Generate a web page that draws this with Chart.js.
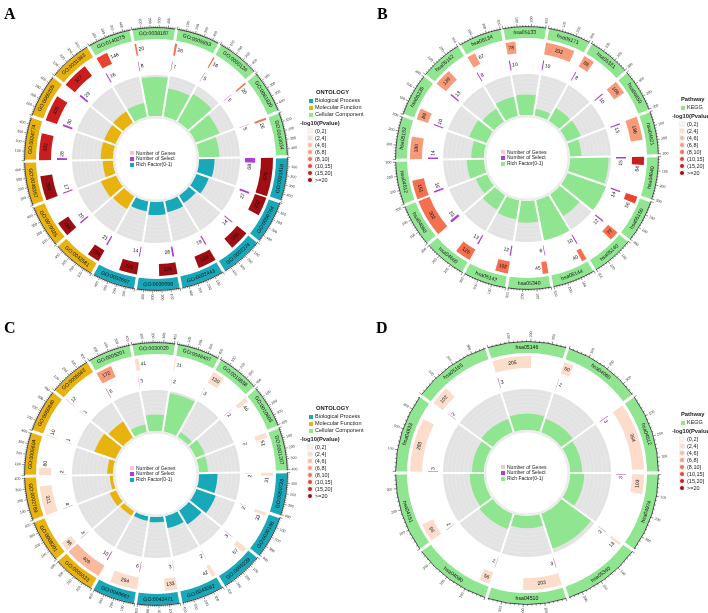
<!DOCTYPE html>
<html>
<head>
<meta charset="utf-8">
<script src="https://cdn.jsdelivr.net/npm/chart.js@4.4.1/dist/chart.umd.min.js"></script>
<style>
  body { margin: 0; background: #fff; width: 708px; height: 613px; position: relative; overflow: hidden;
         font-family: "Liberation Sans", Arial, sans-serif; }
  canvas { position: absolute; }
  .letter { position: absolute; font-family: "Liberation Serif", "DejaVu Serif", serif; font-weight: bold; font-size: 16px; line-height: 16px; }
  .lg { position: absolute; font-size: 5.5px; line-height: 7px; color: #222; white-space: nowrap; }
  .lg b { font-size: 5.8px; }
  .sw { position: absolute; width: 4px; height: 4px; }
  .dot { position: absolute; width: 4px; height: 4px; border-radius: 50%; }
</style>
</head>
<body>
<script>
// shared legend data
const ONTOLOGY_NAMES = ['Biological Process', 'Molecular Function', 'Cellular Component'];
const ONTOLOGY_COLORS = ['#19A8B9', '#E8B30E', '#90E690'];
const PVALUE_LABELS = ['(0,2]', '(2,4]', '(4,6]', '(6,8]', '(8,10]', '(10,15]', '(15,20]', '>=20'];
const PVALUE_COLORS = ['#FEF0EA', '#FCDCCB', '#FBB99E', '#F89B7B', '#F4704F', '#EB4331', '#CC1C1E', '#A00D12'];
const HOLE_LABELS = ['Number of Genes', 'Number of Select', 'Rich Factor(0-1)'];
const SELECT_COLOR = '#B13CD8';
const GENES_COLOR = '#F8C6D2';

// Panel A (GO), clockwise from top
const idsA = ['GO:0038187', 'GO:0005853', 'GO:0000126', 'GO:0061820', 'GO:0043034', 'GO:0031616',
  'GO:0050764', 'GO:0002274', 'GO:0002443', 'GO:0030098', 'GO:0002697', 'GO:0042581',
  'GO:0070325', 'GO:0048367', 'GO:0034774', 'GO:0060205', 'GO:0031983', 'GO:0140275'];
const ontoA = [2, 2, 2, 2, 2, 0, 0, 0, 0, 0, 0, 1, 1, 1, 1, 1, 1, 2];
const genesA = [20, 26, 16, 20, 26, 479, 232, 250, 229, 226, 225, 154, 184, 302, 332, 325, 327, 146];
const selectA = [8, 7, 5, 5, 5, 68, 27, 14, 19, 26, 14, 21, 20, 17, 28, 30, 29, 16];
const richA = [0.95, 0.7, 0.78, 0.62, 0.5, 0.38, 0.32, 0.22, 0.28, 0.32, 0.25, 0.36, 0.4, 0.25, 0.3, 0.3, 0.32, 0.35];
const pLevelA = [4, 4, 4, 4, 4, 7, 7, 7, 7, 7, 7, 7, 7, 7, 6, 6, 6, 5];

// Panel B (KEGG)
const idsB = ['hsa05133', 'hsa05171', 'hsa05321', 'hsa04659', 'hsa04621', 'hsa04640', 'hsa05150',
  'hsa05140', 'hsa05144', 'hsa05340', 'hsa05142', 'hsa04660', 'hsa04060', 'hsa04612',
  'hsa05152', 'hsa05235', 'hsa05162', 'hsa05134'];
const genesB = [78, 232, 88, 108, 186, 64, 56, 77, 40, 45, 102, 126, 302, 151, 180, 89, 139, 67];
const selectB = [10, 10, 8, 10, 13, 15, 14, 12, 10, 6, 12, 13, 23, 16, 14, 10, 13, 8];
const richB = [0.5, 0.17, 0.36, 0.37, 0.28, 0.94, 1.0, 0.62, 1.0, 0.53, 0.47, 0.41, 0.3, 0.42, 0.31, 0.45, 0.37, 0.48];
const pLevelB = [3, 3, 3, 3, 3, 6, 5, 4, 4, 4, 4, 4, 4, 4, 3, 3, 3, 3];

// Panel C (GO)
const idsC = ['GO:0030020', 'GO:0048407', 'GO:0019838', 'GO:0010603', 'GO:0001207', 'GO:0050728',
  'GO:0030198', 'GO:0045229', 'GO:0043062', 'GO:0042471', 'GO:0048662', 'GO:0005523',
  'GO:0008201', 'GO:0002789', 'GO:0005604', 'GO:0050840', 'GO:0005583', 'GO:0005201'];
const ontoC = [2, 2, 2, 2, 2, 0, 0, 0, 0, 0, 0, 1, 1, 1, 1, 1, 1, 2];
const genesC = [41, 11, 130, 46, 51, 31, 33, 57, 42, 133, 294, 409, 96, 311, 80, 10, 12, 172];
const selectC = [3, 2, 3, 2, 2, 2, 2, 3, 2, 3, 6, 10, 3, 4, 2, 1, 1, 6];
const richC = [0.4, 0.95, 0.13, 0.24, 0.22, 0.45, 0.5, 0.4, 0.3, 0.13, 0.11, 0.13, 0.17, 0.08, 0.14, 0.55, 0.46, 0.19];
const pLevelC = [1, 1, 1, 1, 1, 1, 1, 1, 1, 1, 1, 2, 1, 1, 1, 1, 1, 3];

// Panel D (KEGG)
const idsD = ['hsa05146', 'hsa04060', 'hsa04512', 'hsa04974', 'hsa05340', 'hsa04510', 'hsa04080',
  'hsa04151', 'hsa04933', 'hsa05165'];
const genesD = [205, 50, 354, 103, 13, 203, 56, 96, 283, 102];
const selectD = [3, 2, 3, 3, 2, 3, 2, 2, 3, 2];
const richD = [0.4, 0.35, 0.3, 0.35, 0.9, 0.3, 0.4, 0.35, 0.3, 0.35];
const pLevelD = [1, 1, 1, 1, 1, 1, 1, 1, 1, 1];

// ring geometry (px radius)
const R_LABEL = [120, 131];
const R_GENE = [105, 117];
const R_SELECT = [89, 99];
const R_RICH = 84;
const R_HOLE = 43;

function tangentRot(a) {
  // a: canvas angle, returns readable tangential rotation
  let t = a + Math.PI / 2;
  t = ((t % (2 * Math.PI)) + 2 * Math.PI) % (2 * Math.PI);
  if (t > Math.PI / 2 && t < 3 * Math.PI / 2) return t - Math.PI;
  return t;
}

function drawTextAt(ctx, text, x, y, a, r, rot, align) {
  ctx.save();
  ctx.translate(x + r * Math.cos(a), y + r * Math.sin(a));
  ctx.rotate(rot);
  ctx.textAlign = align || 'center';
  ctx.textBaseline = 'middle';
  ctx.fillText(text, 0, 0);
  ctx.restore();
}

function addLegend(left, top, html) {
  const d = document.createElement('div');
  d.className = 'lg';
  d.style.left = left + 'px';
  d.style.top = top + 'px';
  d.innerHTML = html;
  document.body.appendChild(d);
  return d;
}

function drawPanel(p) {
  const gap = p.scaleMax * 0.02;
  const sectorColors = p.onto ? p.onto.map(o => ONTOLOGY_COLORS[o]) : p.ids.map(() => ONTOLOGY_COLORS[2]);

  // inner rich factor ring (polar area)
  const pc = document.createElement('canvas');
  pc.width = 2 * R_RICH; pc.height = 2 * R_RICH;
  pc.style.left = (p.cx - R_RICH) + 'px';
  pc.style.top = (p.cy - R_RICH) + 'px';
  document.body.appendChild(pc);

  const richDecor = {
    id: 'richDecor',
    beforeDatasetDraw(chart, args) {
      if (args.index !== 0) return;
      const s = chart.scales.r, ctx = chart.ctx;
      ctx.save();
      ctx.strokeStyle = 'rgba(255,255,255,0.35)';
      ctx.lineWidth = 0.5;
      for (let k = 1; k < 10; k++) {
        ctx.beginPath();
        ctx.arc(s.xCenter, s.yCenter, s.getDistanceFromCenterForValue(k / 10), 0, 2 * Math.PI);
        ctx.stroke();
      }
      ctx.restore();
    },
    afterDatasetsDraw(chart) {
      const s = chart.scales.r, ctx = chart.ctx;
      const r0 = s.getDistanceFromCenterForValue(0);
      ctx.save();
      ctx.strokeStyle = '#fff';
      ctx.lineWidth = 2;
      chart.getDatasetMeta(1).data.forEach(arc => {
        ctx.beginPath();
        ctx.moveTo(s.xCenter, s.yCenter);
        ctx.lineTo(s.xCenter + (arc.outerRadius + 2) * Math.cos(arc.startAngle), s.yCenter + (arc.outerRadius + 2) * Math.sin(arc.startAngle));
        ctx.stroke();
      });
      ctx.fillStyle = '#fff';
      ctx.beginPath();
      ctx.arc(s.xCenter, s.yCenter, r0, 0, 2 * Math.PI);
      ctx.fill();
      ctx.strokeStyle = '#ececec';
      ctx.lineWidth = 2.5;
      ctx.beginPath();
      ctx.arc(s.xCenter, s.yCenter, r0 - 1.2, 0, 2 * Math.PI);
      ctx.stroke();
      ctx.restore();
    }
  };

  new Chart(pc.getContext('2d'), {
    type: 'polarArea',
    data: {
      labels: p.ids,
      datasets: [
        { data: p.rich, backgroundColor: sectorColors, borderWidth: 0 },
        { data: p.ids.map(() => 1), backgroundColor: '#E3E3E3', borderWidth: 0 }
      ]
    },
    options: {
      responsive: false, animation: false, events: [],
      layout: { padding: 0 },
      scales: { r: { display: false, min: -R_HOLE / (R_RICH - R_HOLE), max: 1, startAngle: p.rotation } },
      plugins: { legend: { display: false }, tooltip: { enabled: false } }
    },
    plugins: [richDecor]
  });

  // outer rings (doughnut)
  const S = 340;
  const dc = document.createElement('canvas');
  dc.width = S; dc.height = S;
  dc.style.left = (p.cx - S / 2) + 'px';
  dc.style.top = (p.cy - S / 2) + 'px';
  document.body.appendChild(dc);

  const tr = 'rgba(0,0,0,0)';
  const split = (vals) => vals.flatMap(v => [gap, v, p.scaleMax - gap - v]);
  const labelData = p.ids.map(() => p.scaleMax);
  const geneColors = p.pLevel.flatMap(l => [tr, PVALUE_COLORS[l], tr]);
  const selColors = p.ids.flatMap(() => [tr, SELECT_COLOR, tr]);

  const ringDecor = {
    id: 'ringDecor',
    afterDatasetsDraw(chart) {
      const ctx = chart.ctx;
      const labelMeta = chart.getDatasetMeta(0);
      const geneMeta = chart.getDatasetMeta(2);
      const selMeta = chart.getDatasetMeta(4);
      const x = labelMeta.data[0].x, y = labelMeta.data[0].y;
      ctx.save();
      labelMeta.data.forEach((arc, i) => {
        const span = arc.endAngle - arc.startAngle;
        const unit = span / p.scaleMax;
        const a0 = arc.startAngle + gap * unit;
        // white gap at sector start
        ctx.strokeStyle = '#fff';
        ctx.lineWidth = 3;
        ctx.beginPath();
        ctx.moveTo(x + (R_LABEL[0] - 1) * Math.cos(arc.startAngle), y + (R_LABEL[0] - 1) * Math.sin(arc.startAngle));
        ctx.lineTo(x + (R_LABEL[1] + 1) * Math.cos(arc.startAngle), y + (R_LABEL[1] + 1) * Math.sin(arc.startAngle));
        ctx.stroke();
        // axis baseline + ticks
        const aEnd = arc.endAngle - gap * unit * 0.5;
        ctx.strokeStyle = '#222';
        ctx.lineWidth = 0.8;
        ctx.beginPath();
        ctx.arc(x, y, R_LABEL[1] + 0.4, a0, aEnd);
        ctx.stroke();
        ctx.lineWidth = 0.5;
        for (let v = 0; a0 + v * unit <= aEnd + 1e-6; v += p.tickMinor) {
          const a = a0 + v * unit;
          const major = v % p.tickMajor === 0;
          const len = major ? 3.2 : 1.8;
          ctx.beginPath();
          ctx.moveTo(x + R_LABEL[1] * Math.cos(a), y + R_LABEL[1] * Math.sin(a));
          ctx.lineTo(x + (R_LABEL[1] + len) * Math.cos(a), y + (R_LABEL[1] + len) * Math.sin(a));
          ctx.stroke();
          if (major && v > 0) {
            ctx.fillStyle = '#333';
            ctx.font = '3.6px "Liberation Sans", Arial';
            let t = ((a + Math.PI / 2) % (2 * Math.PI) + 2 * Math.PI) % (2 * Math.PI);
            if (t <= Math.PI) drawTextAt(ctx, String(v), x, y, a, R_LABEL[1] + 4.5, a, 'left');
            else drawTextAt(ctx, String(v), x, y, a, R_LABEL[1] + 4.5, a + Math.PI, 'right');
          }
        }
        // sector label
        const am = (arc.startAngle + arc.endAngle) / 2;
        ctx.fillStyle = '#111';
        ctx.font = '5.2px "Liberation Sans", Arial';
        drawTextAt(ctx, p.ids[i], x, y, am, (R_LABEL[0] + R_LABEL[1]) / 2, tangentRot(am));
      });
      // value labels on gene and select bars
      const valueLabel = (meta, vals, r0, r1) => {
        const rm = (r0 + r1) / 2;
        ctx.fillStyle = '#111';
        ctx.font = '5px "Liberation Sans", Arial';
        vals.forEach((v, i) => {
          const e = meta.data[3 * i + 1];
          const w = ctx.measureText(String(v)).width;
          const len = (e.endAngle - e.startAngle) * rm;
          let a;
          if (len > w + 3) a = (e.startAngle + e.endAngle) / 2;
          else a = e.endAngle + (w / 2 + 1.5) / rm;
          drawTextAt(ctx, String(v), x, y, a, rm, tangentRot(a));
        });
      };
      valueLabel(geneMeta, p.genes, R_GENE[0], R_GENE[1]);
      valueLabel(selMeta, p.select, R_SELECT[0], R_SELECT[1]);
      ctx.restore();
    }
  };

  const w = (r) => r[1] - r[0];
  new Chart(dc.getContext('2d'), {
    type: 'doughnut',
    data: {
      labels: p.ids,
      datasets: [
        { data: labelData, backgroundColor: sectorColors, borderWidth: 0, weight: w(R_LABEL) },
        { data: [1], backgroundColor: tr, borderWidth: 0, weight: R_LABEL[0] - R_GENE[1] },
        { data: split(p.genes), backgroundColor: geneColors, borderWidth: 0, weight: w(R_GENE) },
        { data: [1], backgroundColor: tr, borderWidth: 0, weight: R_GENE[0] - R_SELECT[1] },
        { data: split(p.select), backgroundColor: selColors, borderWidth: 0, weight: w(R_SELECT) },
        { data: [1], backgroundColor: tr, borderWidth: 0, weight: R_SELECT[0] - R_RICH }
      ]
    },
    options: {
      responsive: false, animation: false, events: [],
      radius: R_LABEL[1],
      cutout: (R_RICH / R_LABEL[1] * 100) + '%',
      rotation: p.rotation,
      layout: { padding: 0 },
      plugins: { legend: { display: false }, tooltip: { enabled: false } }
    },
    plugins: [ringDecor]
  });

  // panel letter
  const L = document.createElement('div');
  L.className = 'letter';
  L.textContent = p.letter;
  L.style.left = p.letterPos[0] + 'px';
  L.style.top = p.letterPos[1] + 'px';
  document.body.appendChild(L);

  // legend inside the hole
  const iconCol = [GENES_COLOR, SELECT_COLOR, p.onto ? ONTOLOGY_COLORS[0] : ONTOLOGY_COLORS[2]];
  let hole = '';
  HOLE_LABELS.forEach((t, k) => {
    hole += `<span class="sw" style="left:0;top:${k * 5.6 + 1.3}px;background:${iconCol[k]}"></span>` +
      `<span style="position:absolute;left:6px;top:${k * 5.6 - 0.5}px;font-size:5px">${t}</span>`;
  });
  const h = addLegend(p.cx - 26, p.cy - 9, hole);
  h.style.width = '50px'; h.style.height = '18px';

  // right legend
  const lx = p.legendPos[0], ly = p.legendPos[1];
  let html = '';
  if (p.onto) {
    html += `<b style="position:absolute;left:9px;top:0">ONTOLOGY</b>`;
    ONTOLOGY_NAMES.forEach((t, k) => {
      html += `<span class="sw" style="left:2px;top:${9.5 + k * 7}px;background:${ONTOLOGY_COLORS[k]}"></span>` +
        `<span style="position:absolute;left:8px;top:${8 + k * 7}px">${t}</span>`;
    });
  } else {
    html += `<b style="position:absolute;left:2px;top:0">Pathway</b>`;
    html += `<span class="sw" style="left:2px;top:9.5px;background:${ONTOLOGY_COLORS[2]}"></span>` +
      `<span style="position:absolute;left:8px;top:8px">KEGG</span>`;
  }
  const py = p.onto ? 31 : 17;
  html += `<b style="position:absolute;left:-7px;top:${py}px">-log10(Pvalue)</b>`;
  PVALUE_LABELS.forEach((t, k) => {
    html += `<span style="position:absolute;left:0;top:${py + 8 + k * 7}px;width:6px;height:6px;background:#f1f1f1"></span>` +
      `<span class="dot" style="left:1px;top:${py + 9 + k * 7}px;background:${PVALUE_COLORS[k]}"></span>` +
      `<span style="position:absolute;left:8px;top:${py + 7.5 + k * 7}px">${t}</span>`;
  });
  addLegend(lx, ly, html);
}

window.addEventListener('load', () => {
  drawPanel({ letter: 'A', letterPos: [4, 6], cx: 156, cy: 159, rotation: -11, ids: idsA, onto: ontoA,
    genes: genesA, select: selectA, rich: richA, pLevel: pLevelA, scaleMax: 500, tickMajor: 100, tickMinor: 20,
    legendPos: [307, 89] });
  drawPanel({ letter: 'B', letterPos: [377, 6], cx: 527, cy: 158, rotation: -11, ids: idsB, onto: null,
    genes: genesB, select: selectB, rich: richB, pLevel: pLevelB, scaleMax: 320, tickMajor: 100, tickMinor: 20,
    legendPos: [679, 96] });
  drawPanel({ letter: 'C', letterPos: [4, 320], cx: 156, cy: 474, rotation: -11, ids: idsC, onto: ontoC,
    genes: genesC, select: selectC, rich: richC, pLevel: pLevelC, scaleMax: 430, tickMajor: 100, tickMinor: 20,
    legendPos: [307, 405] });
  drawPanel({ letter: 'D', letterPos: [376, 320], cx: 527, cy: 473, rotation: -18, ids: idsD, onto: null,
    genes: genesD, select: selectD, rich: richD, pLevel: pLevelD, scaleMax: 380, tickMajor: 100, tickMinor: 20,
    legendPos: [679, 411] });
});
</script>
</body>
</html>
